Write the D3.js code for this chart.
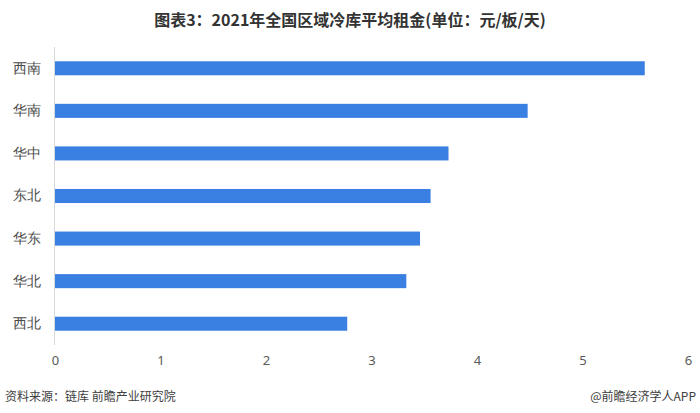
<!DOCTYPE html>
<html><head><meta charset="utf-8">
<script src="https://cdn.jsdelivr.net/npm/d3@7"></script>
<style>body{margin:0;background:#fff;}svg{display:block;font-family:"Noto Sans CJK SC","Noto Sans",sans-serif;}</style>
</head><body>
<svg id="chart" width="700" height="413"></svg>
<script>
const categories = ["西南","华南","华中","东北","华东","华北","西北"];
const values = [5.59, 4.48, 3.73, 3.56, 3.46, 3.33, 2.77];
const xTicks = [0,1,2,3,4,5,6];
const title = "图表3：2021年全国区域冷库平均租金(单位：元/板/天)";
const source = "资料来源：链库 前瞻产业研究院";
const credit = "@前瞻经济学人APP";

const svg = d3.select("#chart");
const x = d3.scaleLinear().domain([0,6]).range([55,688]);
const y = d3.scaleBand().domain(categories).range([47,345]).paddingInner(0.67).paddingOuter(0.335);

svg.append("text").attr("x",350).attr("y",26).attr("text-anchor","middle")
  .attr("font-size",16).attr("font-weight","bold").attr("fill","#333").text(title);

svg.selectAll("rect.bar").data(values).join("rect").attr("class","bar")
  .attr("x",x(0)).attr("y",(d,i)=>y(categories[i]))
  .attr("width",d=>x(d)-x(0)).attr("height",y.bandwidth()).attr("fill","#3a80e2");

const xAxis = svg.append("g").attr("transform","translate(0,345)")
  .call(d3.axisBottom(x).tickValues(xTicks).tickSize(0).tickPadding(11).tickFormat(d3.format("d")));
xAxis.select(".domain").remove();
xAxis.selectAll("text").attr("font-size",13).attr("fill","#595959").attr("font-family","'Noto Sans',sans-serif");

const yAxis = svg.append("g").attr("transform","translate(54.5,0)")
  .call(d3.axisLeft(y).tickSize(0).tickPadding(14));
yAxis.select(".domain").attr("stroke","#d9d9d9").attr("d","M0,47V345");
yAxis.selectAll("text").attr("font-size",14).attr("fill","#4a4a4a");

svg.append("text").attr("x",5).attr("y",401).attr("font-size",12).attr("fill","#404040").text(source);
svg.append("text").attr("x",696).attr("y",401).attr("text-anchor","end").attr("font-size",12).attr("fill","#404040").text(credit);
</script>
</body></html>
